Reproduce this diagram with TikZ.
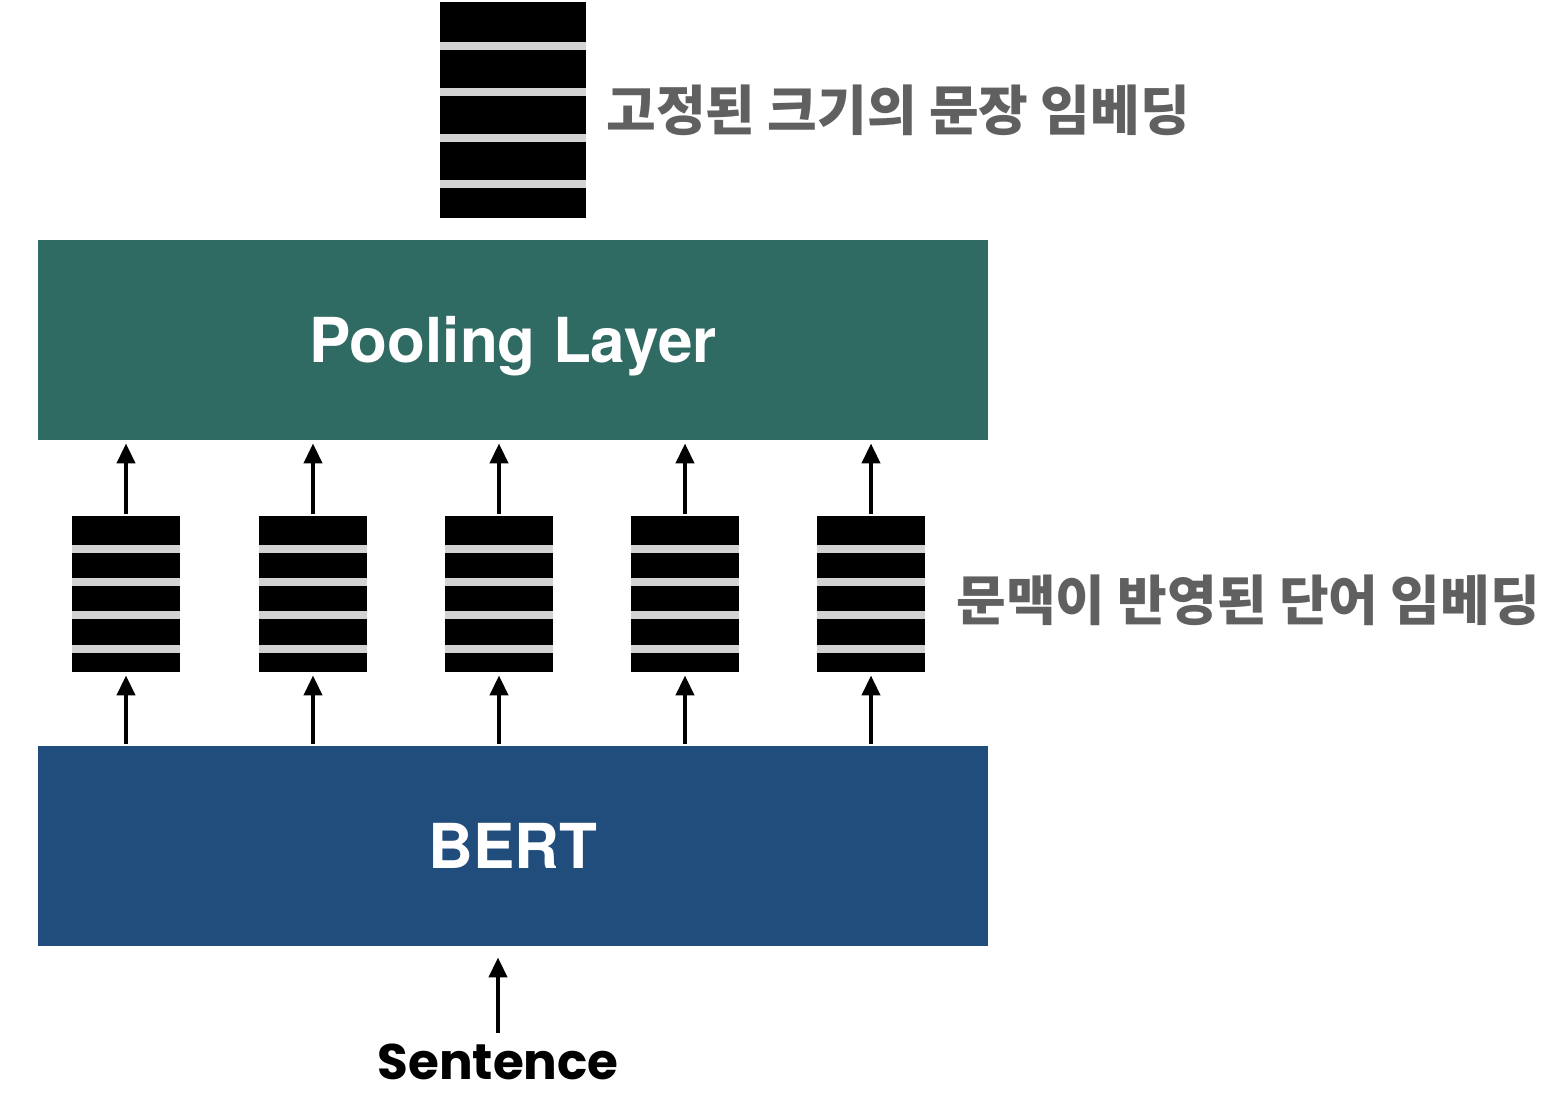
\documentclass[tikz,border=0pt]{standalone}
\usepackage{fontspec}
\setmainfont{TeX Gyre Heros}
\newfontfamily\korfont{Noto Sans CJK KR}
\newfontfamily\sentfont{Poppins}
\usetikzlibrary{arrows.meta,calc}

\definecolor{poolteal}{HTML}{2F6A63}
\definecolor{bertblue}{HTML}{204D7C}
\definecolor{stripegray}{HTML}{D3D3D3}
\definecolor{notegray}{HTML}{606060}

\begin{document}
\begin{tikzpicture}[
    x=0.5pt, y=-0.5pt,
    layer/.style={rectangle, minimum width=475pt, minimum height=100pt,
                  inner sep=0pt, text=white, text height=22.3pt, text depth=0pt,
                  font=\bfseries\fontsize{31}{38}\selectfont},
    vec/.style={rectangle, fill=black, inner sep=0pt,
                minimum width=54pt, minimum height=78pt,
                path picture={
                  \foreach \f in {0.185,0.40,0.61,0.825}
                    \fill[stripegray]
                      ($(path picture bounding box.north west)!\f!(path picture bounding box.south west)$)
                      rectangle
                      ($(path picture bounding box.north east)!\f!(path picture bounding box.south east)+(0pt,-4pt)$);
                }},
    note/.style={anchor=west, inner sep=0pt, text=notegray,
                 font=\korfont\bfseries\fontsize{27}{34}\selectfont},
    arrow/.style={-{Triangle[width=9pt,length=10pt]}, line width=2pt}
]
    \useasboundingbox (0,0) rectangle (1548,1100);

    % Sentence embedding
    \node[vec, minimum width=73pt, minimum height=108pt] (out) at (513,110) {};
    \node[note] (outlbl) at (606,110) {고정된 크기의 문장 임베딩};

    % Pooling Layer
    \node[layer, fill=poolteal] (pool) at (513,340) {Pooling Layer};

    % Word embeddings
    \node[vec] (v1) at (126,594) {};
    \node[vec] (v2) at (313,594) {};
    \node[vec] (v3) at (499,594) {};
    \node[vec] (v4) at (685,594) {};
    \node[vec] (v5) at (871,594) {};
    \node[note] (veclbl) at (956,600) {문맥이 반영된 단어 임베딩};

    % BERT
    \node[layer, fill=bertblue] (bert) at (513,846) {BERT};

    % Input
    \node[font=\sentfont\bfseries\fontsize{25}{30}\selectfont, inner sep=0pt] (sent) at (498,1062) {Sentence};

    % Arrows
    \draw[arrow, shorten <=1pt, shorten >=1.5pt] (v1.north) -- (v1.north |- pool.south);
    \draw[arrow, shorten <=1pt, shorten >=1.5pt] (v2.north) -- (v2.north |- pool.south);
    \draw[arrow, shorten <=1pt, shorten >=1.5pt] (v3.north) -- (v3.north |- pool.south);
    \draw[arrow, shorten <=1pt, shorten >=1.5pt] (v4.north) -- (v4.north |- pool.south);
    \draw[arrow, shorten <=1pt, shorten >=1.5pt] (v5.north) -- (v5.north |- pool.south);
    \draw[arrow, shorten <=1pt, shorten >=1.5pt] (v1.south |- bert.north) -- (v1.south);
    \draw[arrow, shorten <=1pt, shorten >=1.5pt] (v2.south |- bert.north) -- (v2.south);
    \draw[arrow, shorten <=1pt, shorten >=1.5pt] (v3.south |- bert.north) -- (v3.south);
    \draw[arrow, shorten <=1pt, shorten >=1.5pt] (v4.south |- bert.north) -- (v4.south);
    \draw[arrow, shorten <=1pt, shorten >=1.5pt] (v5.south |- bert.north) -- (v5.south);
    \draw[arrow, shorten <=5.5pt, shorten >=5.5pt] (sent.north) -- (sent.north |- bert.south);
\end{tikzpicture}
\end{document}
